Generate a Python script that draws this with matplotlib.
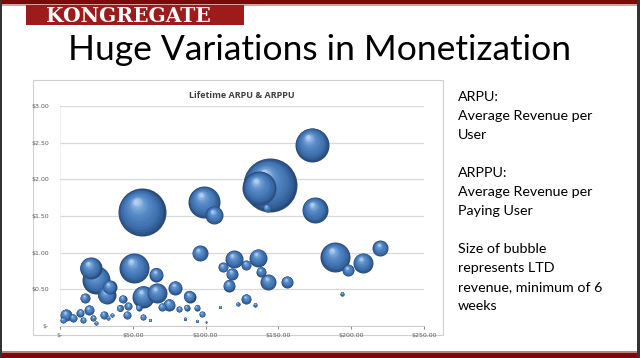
import numpy as np
import matplotlib.pyplot as plt
import matplotlib.transforms as mtransforms
from matplotlib.colors import LinearSegmentedColormap
from matplotlib.patches import Rectangle

### Data ###
# x: lifetime ARPPU ($), y: lifetime ARPU ($), size: LTD revenue (relative units)
arppu = [56, 99, 106, 144, 137, 142, 173, 175, 189, 208, 198, 220, 194,
         96, 119.5, 112, 128, 136, 118, 138, 116, 143, 156, 128, 122, 134, 110,
         79, 89, 75, 82, 94, 97.5, 86, 94, 100, 66,
         51, 21, 25, 32, 34, 57, 66.5, 17, 43, 41, 47, 20, 4, 30, 46, 57,
         14, 9, 2, 16, 23, 33, 25, 36, 62, 54, 70, 87]
arpu = [1.55, 1.69, 1.51, 1.92, 1.88, 1.61, 2.47, 1.58, 0.94, 0.86, 0.76, 1.06, 0.44,
        0.99, 0.91, 0.80, 0.83, 0.93, 0.71, 0.74, 0.55, 0.60, 0.60, 0.37, 0.30, 0.29, 0.26,
        0.52, 0.40, 0.29, 0.23, 0.25, 0.16, 0.10, 0.07, 0.05, 0.70,
        0.79, 0.79, 0.63, 0.42, 0.53, 0.40, 0.45, 0.38, 0.37, 0.24, 0.27, 0.22, 0.15, 0.15, 0.15, 0.12,
        0.18, 0.11, 0.08, 0.08, 0.11, 0.11, 0.04, 0.15, 0.08, 0.25, 0.26, 0.25]
ltd_rev = [576, 256, 81, 729, 289, 16, 289, 169, 225, 100, 36, 64, 4,
           64, 81, 25, 25, 81, 36, 25, 36, 64, 36, 25, 4, 4, 2.25,
           49, 36, 36, 9, 9, 9, 2.25, 2.25, 1, 49,
           225, 121, 196, 81, 49, 121, 100, 25, 16, 12, 16, 25, 36, 16, 16, 9,
           16, 16, 9, 9, 9, 4, 4, 4, 2.25, 9, 16, 9]

x_ticks = [0, 50, 100, 150, 200, 250]
x_ticklabels = ['$-', '$50.00', '$100.00', '$150.00', '$200.00', '$250.00']
y_ticks = [0, 0.5, 1.0, 1.5, 2.0, 2.5, 3.0]
y_ticklabels = ['$-', '$0.50', '$1.00', '$1.50', '$2.00', '$2.50', '$3.00']

notes = ['ARPU:', 'Average Revenue per', 'User', '',
         'ARPPU:', 'Average Revenue per', 'Paying User', '',
         'Size of bubble', 'represents LTD', 'revenue, minimum of 6', 'weeks']

### Figure / slide ###
fig = plt.figure(figsize=(6.4, 3.58), dpi=100)
W, H = 640, 358

def px_rect(x0, y0, x1, y1, **kw):
    fig.patches.append(Rectangle((x0 / W, 1 - y1 / H), (x1 - x0) / W, (y1 - y0) / H,
                                 transform=fig.transFigure, **kw))

# top bar, logo, bottom bar, borders
px_rect(0, 0, 640, 4, color='#7A0A0A', lw=0)
px_rect(0, 4, 640, 6, color='#D9A0A0', lw=0)
px_rect(26, 5, 244, 25, color='#9E1B1B', lw=0)
px_rect(0, 351, 640, 353, color='#C08080', lw=0)
px_rect(0, 353, 640, 358, color='#7A0A0A', lw=0)
px_rect(0, 0, 1.5, 358, color='#333333', lw=0)
px_rect(637, 0, 640, 358, color='#333333', lw=0)
# chart frame (behind the axes)
px_rect(33, 80, 443, 335, facecolor='white', edgecolor='#D0D0D0', lw=0.8, zorder=-1)

fig.text(128 / W, 1 - 15.5 / H, 'KONGREGATE', color='white', fontsize=14.5,
         fontweight='bold', family='DejaVu Serif', ha='center', va='center')
fig.text(320 / W, 1 - 50 / H, 'Huge Variations in Monetization', fontsize=25.5,
         family='Lato', ha='center', va='center', color='black')

for i, line in enumerate(notes):
    fig.text(458 / W, 1 - (97 + 19 * i) / H, line, fontsize=10.3, family='Lato',
             ha='left', va='center', color='black')

### Bubble chart ###
ax = fig.add_axes([60 / W, 1 - 326 / H, 364 / W, 220 / H])
ax.patch.set_alpha(0)
ax.set_xlim(0, 250)
ax.set_ylim(0, 3)
ax.set_xticks(x_ticks)
ax.set_xticklabels(x_ticklabels)
ax.set_yticks(y_ticks)
ax.set_yticklabels(y_ticklabels)
ax.tick_params(axis='x', labelsize=4.5, colors='#595959', length=2, width=0.5, pad=3)
ax.tick_params(axis='y', labelsize=4.5, colors='#595959', length=0, pad=8)
ax.grid(axis='y', color='#D9D9D9', lw=0.9)
ax.set_axisbelow(True)
for s in ['top', 'right']:
    ax.spines[s].set_visible(False)
ax.spines['left'].set_color('#EBEBEB')
ax.spines['left'].set_linewidth(0.5)
ax.spines['bottom'].set_color('#BFBFBF')
ax.spines['bottom'].set_linewidth(0.6)
ax.set_title('Lifetime ARPU & ARPPU', fontsize=6.5, fontweight='bold',
             color='#404040', pad=6, family='Open Sans')

# fake 3D shading: many stacked circles getting lighter towards the upper-left
shade = LinearSegmentedColormap.from_list(
    'ball', ['#284A7A', '#3766A0', '#4375B3', '#4C80BE', '#5B8DC8', '#78A5D8', '#AFCDEF'])
fracs = np.linspace(1.0, 0.12, 16)
k = 0.72 ** 2 * 4  # radius(px)^2 -> marker area in pt^2
order = np.argsort(ltd_rev)[::-1]
for i in order:
    r_pt = np.sqrt(ltd_rev[i]) * 0.72
    for j, f in enumerate(fracs):
        dx = -(1 - f) * r_pt * 0.25
        dy = (1 - f) * r_pt * 0.50
        tr = ax.transData + mtransforms.ScaledTranslation(dx / 72, dy / 72, fig.dpi_scale_trans)
        ax.scatter([arppu[i]], [arpu[i]], s=ltd_rev[i] * k * f ** 2,
                   color=shade(j / (len(fracs) - 1)),
                   lw=0, transform=tr, clip_on=False, zorder=3)

fig.savefig('out.png', dpi=100)
